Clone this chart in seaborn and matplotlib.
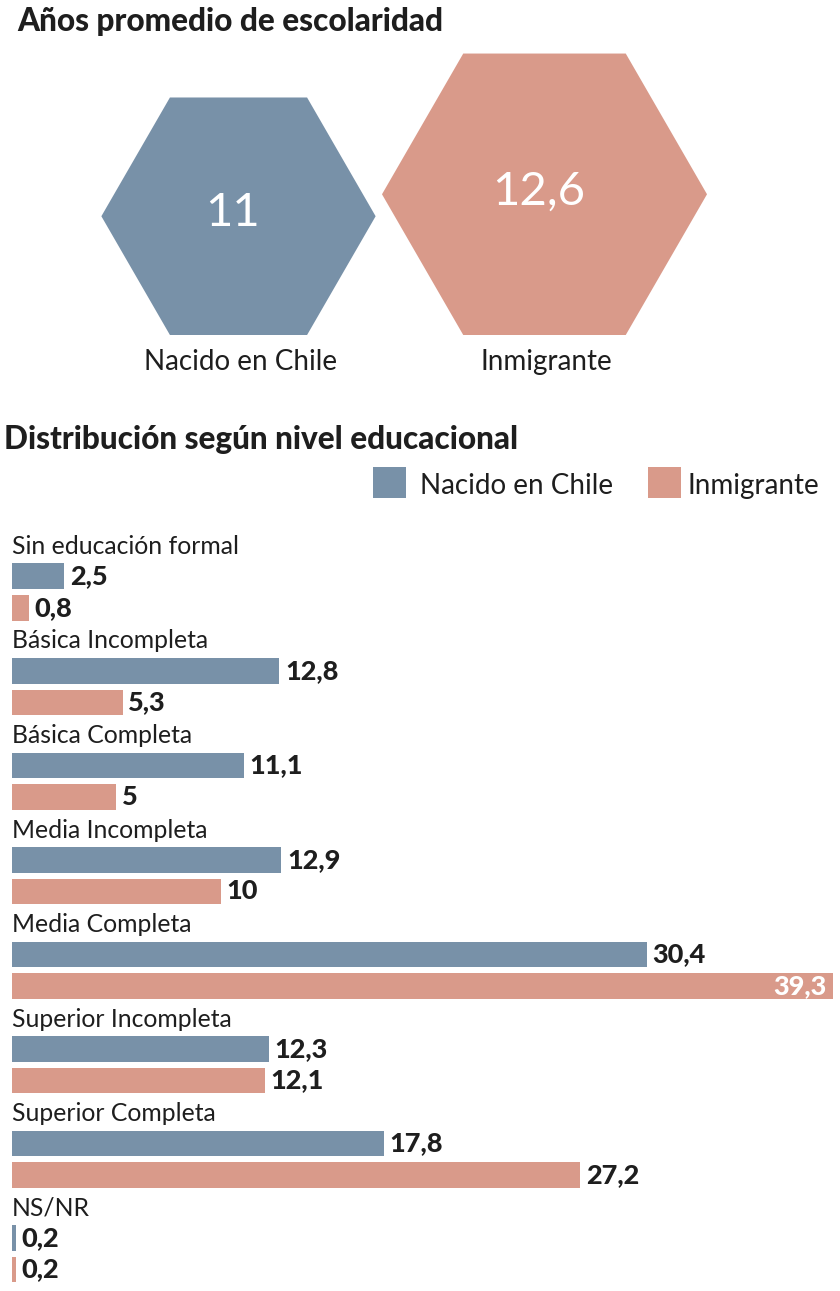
import numpy as np
import pandas as pd
import matplotlib
matplotlib.use("Agg")
import matplotlib.pyplot as plt
from matplotlib.patches import Polygon, Rectangle
import seaborn as sns

# ---------------- data ----------------
groups = ["Nacido en Chile", "Inmigrante"]
avg_years = [11, 12.6]
avg_labels = ["11", "12,6"]

categories = ["Sin educación formal", "Básica Incompleta", "Básica Completa",
              "Media Incompleta", "Media Completa", "Superior Incompleta",
              "Superior Completa", "NS/NR"]
chile_vals = [2.5, 12.8, 11.1, 12.9, 30.4, 12.3, 17.8, 0.2]
inmig_vals = [0.8, 5.3, 5.0, 10.0, 39.3, 12.1, 27.2, 0.2]
chile_labels = ["2,5", "12,8", "11,1", "12,9", "30,4", "12,3", "17,8", "0,2"]
inmig_labels = ["0,8", "5,3", "5", "10", "39,3", "12,1", "27,2", "0,2"]

# ---------------- style ----------------
BLUE = "#7891a8"
SALMON = "#d99a8a"
DARK = "#1e1e1e"
palette = {groups[0]: BLUE, groups[1]: SALMON}

sns.set_theme(style="white")
plt.rcParams["font.family"] = ["Lato", "DejaVu Sans"]

W, H = 840, 1291
fig = plt.figure(figsize=(W / 100, H / 100), dpi=100)
fig.patch.set_facecolor("white")


def fx(px):
    return px / W


def fy(py):
    return 1 - py / H


# ---------------- titles ----------------
fig.text(fx(17), fy(22), "Años promedio de escolaridad", fontsize=22.7,
         fontweight="black", color=DARK, va="center", ha="left")
fig.text(fx(4), fy(440), "Distribución según nivel educacional", fontsize=22.7,
         fontweight="black", color=DARK, va="center", ha="left")

# ---------------- hexagons ----------------
axh = fig.add_axes([0, fy(400), 1, 400 / H])
axh.set_xlim(0, W)
axh.set_ylim(400, 0)
axh.set_aspect("equal")
axh.axis("off")

hex_centers_x = [238.5, 544.5]
hex_bottom = 335
hex_ref_R = 162.5  # radius for the largest value
hex_exp = 1.25
maxv = max(avg_years)
for i, (g, v, lab) in enumerate(zip(groups, avg_years, avg_labels)):
    R = hex_ref_R * (v / maxv) ** hex_exp
    hh = R * np.sqrt(3) / 2
    cx = hex_centers_x[i]
    cy = hex_bottom - hh
    ang = np.deg2rad(np.arange(0, 360, 60))
    verts = np.column_stack([cx + R * np.cos(ang),
                             cy + hh * np.sin(ang) / np.sin(np.deg2rad(60))])
    axh.add_patch(Polygon(verts, closed=True, facecolor=palette[g], edgecolor="none"))
    axh.text(cx - 6, cy - 3, lab, fontsize=34, fontweight="normal", color="white",
             ha="center", va="center")
    axh.text(cx + 2, 362, g, fontsize=20, color=DARK, ha="center", va="center")

# ---------------- legend ----------------
leg_items = [(373, 420, groups[0]), (648, 688, groups[1])]
for (bx, tx, g) in leg_items:
    fig.add_artist(Rectangle((fx(bx), fy(498)), 33 / W, 31 / H,
                             transform=fig.transFigure, facecolor=palette[g],
                             edgecolor="none"))
    fig.text(fx(tx), fy(486), g, fontsize=20, color=DARK, ha="left", va="center")

# ---------------- bars ----------------
rows = []
for i, cat in enumerate(categories):
    rows.append({"cat": cat, "group": groups[0], "value": chile_vals[i],
                 "pos": 3 * i + 1, "label": chile_labels[i]})
    rows.append({"cat": cat, "group": groups[1], "value": inmig_vals[i],
                 "pos": 3 * i + 2, "label": inmig_labels[i]})
df = pd.DataFrame(rows)

ax = fig.add_axes([fx(12), fy(1288.4), (833 - 12) / W, (1288.4 - 526) / H])
sns.barplot(data=df, x="value", y="pos", hue="group", palette=palette,
            orient="h", native_scale=True, dodge=False, width=0.82,
            saturation=1, errorbar=None, legend=False, linewidth=0, ax=ax)
xmax = max(max(chile_vals), max(inmig_vals))
ax.set_xlim(0, xmax)
ax.set_ylim(23.6, -0.6)
ax.axis("off")

for i, cat in enumerate(categories):
    ax.text(0, 3 * i + 0.05, cat, fontsize=17.8, color=DARK, ha="left",
            va="center", clip_on=False)

for _, r in df.iterrows():
    if r["value"] >= xmax * 0.95:
        ax.annotate(r["label"], (r["value"], r["pos"]), xytext=(-5, 0),
                    textcoords="offset points", ha="right", va="center",
                    fontsize=19.5, fontweight="black", color="white",
                    annotation_clip=False)
    else:
        ax.annotate(r["label"], (r["value"], r["pos"]), xytext=(4, 0),
                    textcoords="offset points", ha="left", va="center",
                    fontsize=19.5, fontweight="black", color=DARK,
                    annotation_clip=False)

fig.savefig("out.png", dpi=100, facecolor="white")
